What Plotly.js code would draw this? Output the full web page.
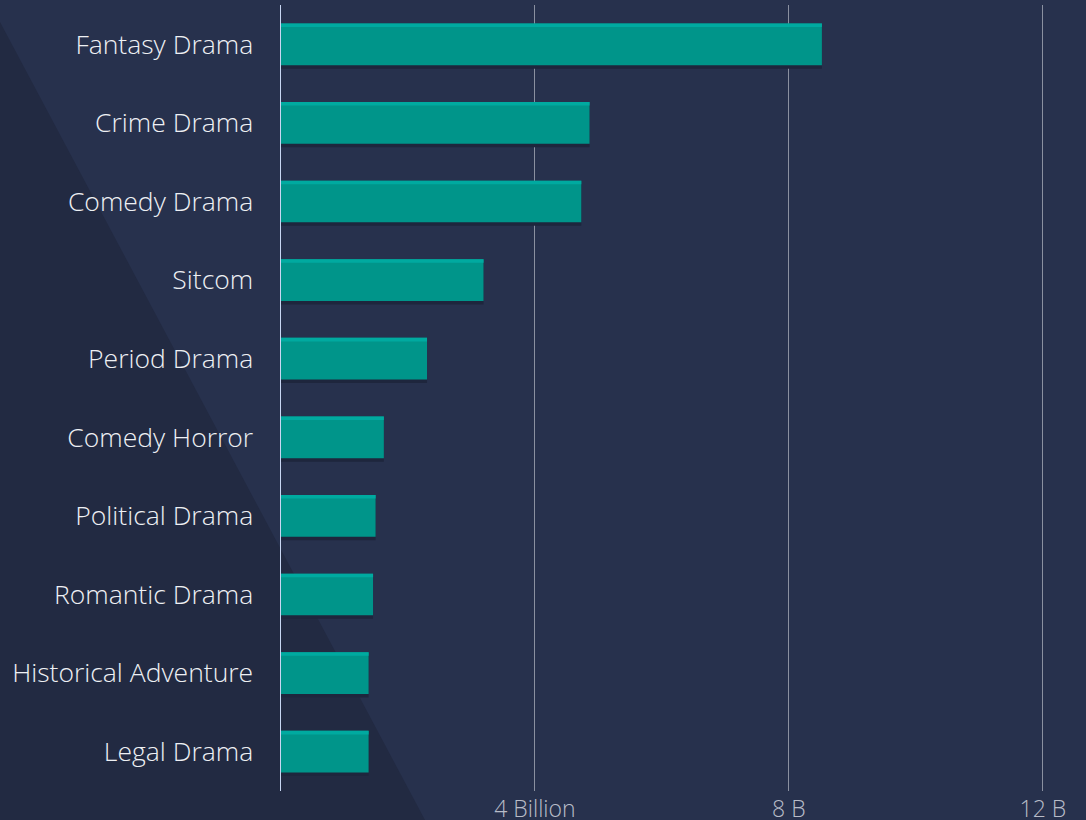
<!DOCTYPE html>
<html>
<head>
<meta charset="utf-8">
<script src="https://cdn.plot.ly/plotly-3.0.1.min.js"></script>
<style>
  html, body { margin: 0; padding: 0; background: #27314d; }
  #wrap { position: relative; width: 1086px; height: 820px; overflow: hidden; background: #27314d; }
  #tri { position: absolute; left: 0; top: 0; width: 1086px; height: 820px; background: #222a42;
         clip-path: polygon(0px 22px, 425px 820px, 0px 820px); }
  #chart { position: absolute; left: 0; top: 0; width: 1086px; height: 820px; }
</style>
</head>
<body>
<div id="wrap">
  <div id="tri"></div>
  <div id="chart"></div>
</div>
<script>
const categories = ["Fantasy Drama", "Crime Drama", "Comedy Drama", "Sitcom", "Period Drama",
  "Comedy Horror", "Political Drama", "Romantic Drama", "Historical Adventure", "Legal Drama"];
const values = [8.52, 4.86, 4.73, 3.19, 2.30, 1.62, 1.49, 1.45, 1.38, 1.38];
const tickValues = [4, 8, 12];
const tickLabels = ["4 Billion", "8 B", "12 B"];

const W = 0.53;
const shadow = {
  type: "bar", orientation: "h", y: categories, x: values,
  width: W, offset: -W / 2 + 0.045,
  marker: { color: "#1e263d", line: { width: 0 } },
  hoverinfo: "skip", showlegend: false
};
const main = {
  type: "bar", orientation: "h", y: categories, x: values,
  width: W, offset: -W / 2,
  marker: { color: "#00958a", line: { width: 0 } },
  showlegend: false
};
const stripe = {
  type: "bar", orientation: "h", y: categories, x: values,
  width: 0.045, offset: -W / 2,
  marker: { color: "#00aaa0", line: { width: 0 } },
  hoverinfo: "skip", showlegend: false
};

const layout = {
  width: 1086, height: 820,
  margin: { l: 281, r: 0, t: 5, b: 29 },
  paper_bgcolor: "rgba(0,0,0,0)",
  plot_bgcolor: "rgba(0,0,0,0)",
  barmode: "overlay",
  font: { family: "Open Sans", color: "#e8eaf0" },
  xaxis: {
    range: [0, 12.68],
    tickvals: tickValues, ticktext: tickLabels,
    showgrid: true, gridcolor: "#8a90a0", gridwidth: 1,
    zeroline: false, showline: false,
    tickfont: { family: "Open Sans", size: 23, color: "#b8bcc8", weight: 300 },
    ticks: "", ticklabelstandoff: 2
  },
  yaxis: {
    type: "category", autorange: "reversed",
    showgrid: false, zeroline: false,
    showline: true, linecolor: "#c8d6f2", linewidth: 1.5,
    tickfont: { family: "Open Sans", size: 26.5, color: "#eef0f4", weight: 300 },
    ticks: "", ticklabelstandoff: 21
  }
};

Plotly.newPlot("chart", [shadow, main, stripe], layout, { displayModeBar: false, staticPlot: true });
</script>
</body>
</html>
